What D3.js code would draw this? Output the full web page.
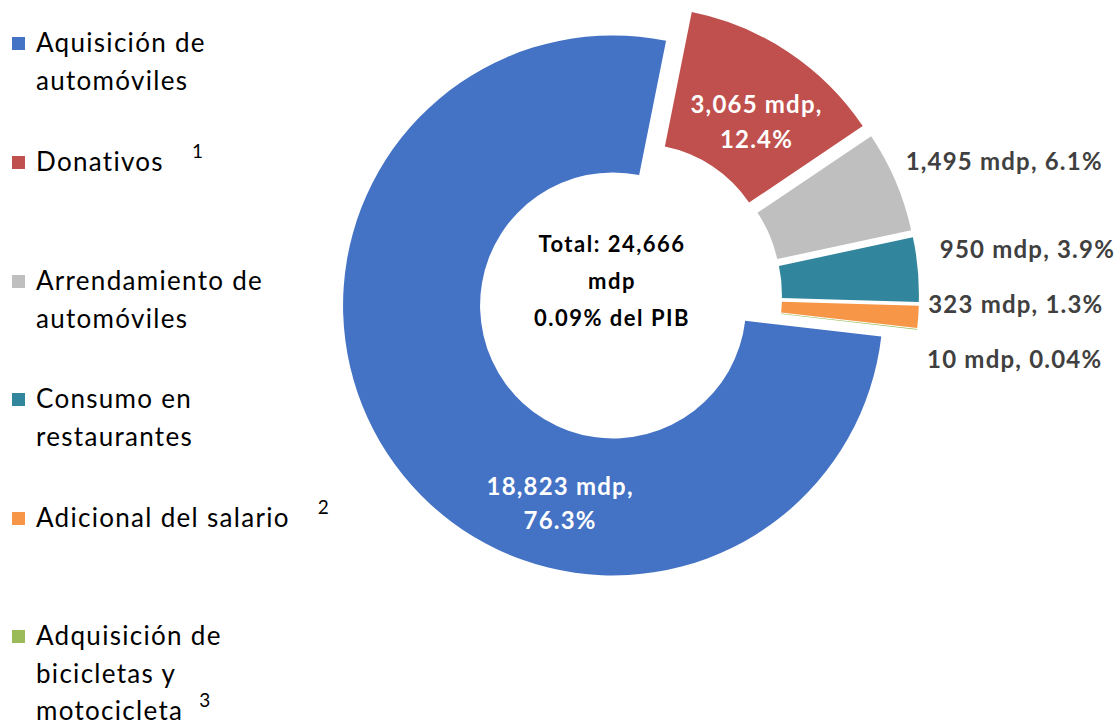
<!DOCTYPE html>
<html>
<head>
<meta charset="utf-8">
<script src="https://cdn.jsdelivr.net/npm/d3@7"></script>
<style>
  body { margin: 0; background: #fff; }
  svg { font-family: Lato, "Noto Sans", sans-serif; }
</style>
</head>
<body>
<svg id="chart" width="1120" height="725"></svg>
<script>
// datos
const categories = ["Aquisición de automóviles", "Donativos", "Arrendamiento de automóviles",
    "Consumo en restaurantes", "Adicional del salario", "Adquisición de bicicletas y motocicleta"];
const values = [18823, 3065, 1495, 950, 323, 10];
const pcts = ["76.3%", "12.4%", "6.1%", "3.9%", "1.3%", "0.04%"];
const legendLines = [["Aquisición de", "automóviles"], ["Donativos"], ["Arrendamiento de", "automóviles"],
    ["Consumo en", "restaurantes"], ["Adicional del salario"], ["Adquisición de", "bicicletas y", "motocicleta"]];
const notes = ["", "1", "", "", "2", "3"];
const centerLines = ["Total: 24,666", "mdp", "0.09% del PIB"];
const colors = ["#4472C4", "#C0504D", "#BFBFBF", "#31859C", "#F79646", "#9BBB59"];

const CX = 626, CY = 296;
const R_OUT = 270, R_IN = 133;
const START = 96.6 * Math.PI / 180;
const EXPLODE = [16, 23, 23, 23, 23, 23];
const LABEL_COR = "#404040";
const LABEL_SIZE = 24, LABEL_LS = 1.2;

const svg = d3.select("#chart");
const g = svg.append("g").attr("transform", `translate(${CX},${CY})`);

const pie = d3.pie().sort(null).value(d => d)
    .startAngle(START).endAngle(START + 2 * Math.PI);
const arcs = pie(values);
const arc = d3.arc().innerRadius(R_IN).outerRadius(R_OUT);

function offset(d, i, extra = 0) {
    let a = (d.startAngle + d.endAngle) / 2;
    let r = EXPLODE[i] + extra;
    return [r * Math.sin(a), -r * Math.cos(a)];
}

g.selectAll("path.slice")
    .data(arcs)
    .join("path")
    .attr("class", "slice")
    .attr("d", arc)
    .attr("fill", (d, i) => colors[i])
    .attr("transform", (d, i) => {
        let [dx, dy] = offset(d, i);
        return `translate(${dx},${dy})`;
    });

// texto central
g.selectAll("text.center")
    .data(centerLines)
    .join("text")
    .attr("class", "center")
    .attr("x", -14)
    .attr("y", (d, i) => -44 + i * 37)
    .attr("text-anchor", "middle")
    .attr("font-size", 22)
    .attr("font-weight", "bold")
    .attr("letter-spacing", 1.5)
    .attr("fill", "#000")
    .text(d => d);

function fmt(v) { return d3.format(",")(v) + " mdp"; }

// etiqueta interior roja
{
    let d = arcs[1];
    let [cx, cy] = arc.centroid(d);
    let [dx, dy] = offset(d, 1);
    g.append("text")
        .attr("text-anchor", "middle")
        .attr("font-size", LABEL_SIZE)
        .attr("font-weight", "bold")
        .attr("letter-spacing", LABEL_LS)
        .attr("fill", "#fff")
        .selectAll("tspan")
        .data([fmt(values[1]) + ",", pcts[1]])
        .join("tspan")
        .attr("x", cx + dx + 6)
        .attr("y", (t, k) => cy + dy + 4 + k * 35)
        .text(t => t);
}

// etiqueta interior azul (Excel la coloca abajo)
{
    let d = arcs[0];
    let a = 195 * Math.PI / 180;
    let r = (R_IN + R_OUT) / 2 + 3;
    let [dx, dy] = offset(d, 0);
    let lx = r * Math.sin(a) + dx, ly = -r * Math.cos(a) + dy;
    g.append("text")
        .attr("text-anchor", "middle")
        .attr("font-size", LABEL_SIZE)
        .attr("font-weight", "bold")
        .attr("letter-spacing", LABEL_LS)
        .attr("fill", "#fff")
        .selectAll("tspan")
        .data([fmt(values[0]) + ",", pcts[0]])
        .join("tspan")
        .attr("x", lx)
        .attr("y", (t, k) => ly - 8 + k * 34)
        .text(t => t);
}

// etiquetas externas
let lastY = -Infinity;
arcs.slice(2).forEach((d, j) => {
    let i = j + 2;
    let a = (d.startAngle + d.endAngle) / 2;
    let r = R_OUT + EXPLODE[i];
    let ox = r * Math.sin(a), oy = -r * Math.cos(a);
    let y = Math.max(oy - 18, lastY + 55);
    lastY = y;
    g.append("text")
        .attr("x", ox + (i === 3 ? 22 : 10))
        .attr("y", y + 7)
        .attr("font-size", LABEL_SIZE)
        .attr("font-weight", "bold")
        .attr("letter-spacing", LABEL_LS)
        .attr("fill", LABEL_COR)
        .text(fmt(values[i]) + ", " + pcts[i]);
});

// leyenda
const legendY = [52, 171, 290, 408, 527, 645];
const LINE_H = 37.5;
const leg = svg.append("g");
legendLines.forEach((lines, i) => {
    let y = legendY[i];
    leg.append("rect")
        .attr("x", 12).attr("y", y - 15)
        .attr("width", 13).attr("height", 13)
        .attr("fill", colors[i]);
    let t = leg.append("text")
        .attr("font-size", 26)
        .attr("letter-spacing", 1.3)
        .attr("fill", "#000");
    lines.forEach((ln, k) => {
        t.append("tspan").attr("x", 36).attr("y", y + k * LINE_H).text(ln);
    });
    if (notes[i]) {
        let last = t.selectAll("tspan").nodes().pop();
        let w = last.getComputedTextLength();
        leg.append("text")
            .attr("x", 36 + w + (i === 5 ? 16 : 28))
            .attr("y", y + (lines.length - 1) * LINE_H - 13)
            .attr("font-size", 19)
            .attr("fill", "#000")
            .text(notes[i]);
    }
});
</script>
</body>
</html>
